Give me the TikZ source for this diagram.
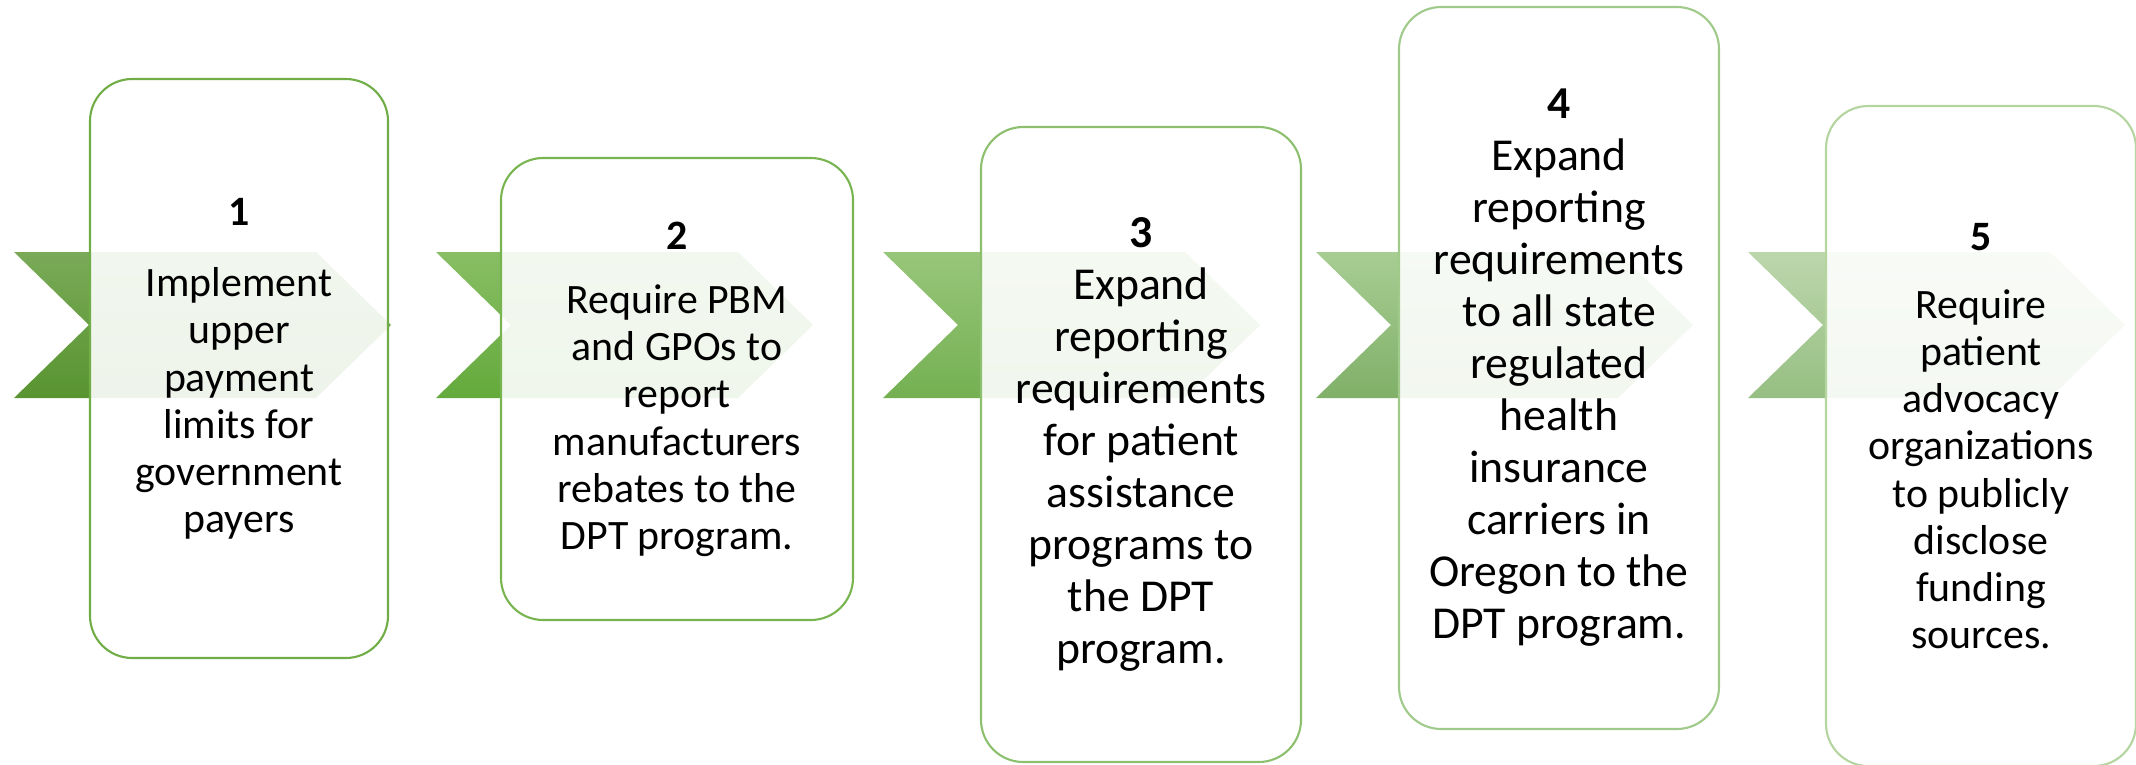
\documentclass[tikz,border=0pt]{standalone}
\usepackage{fontspec}
\setmainfont{Carlito}
\usepackage{xcolor}
\usepackage{tikz}
\usetikzlibrary{shapes.geometric, positioning, calc}
% chevron shading, top and bottom
\definecolor{corChevTopA}{RGB}{122, 170, 88}
\definecolor{corChevBotA}{RGB}{88, 148, 48}
\definecolor{corChevTopB}{RGB}{136, 190, 100}
\definecolor{corChevBotB}{RGB}{100, 170, 60}
\definecolor{corChevTopC}{RGB}{152, 198, 122}
\definecolor{corChevBotC}{RGB}{116, 176, 82}
\definecolor{corChevTopD}{RGB}{168, 205, 148}
\definecolor{corChevBotD}{RGB}{128, 176, 104}
\definecolor{corChevTopE}{RGB}{188, 215, 172}
\definecolor{corChevBotE}{RGB}{150, 190, 130}
% box outlines
\definecolor{corBoxA}{RGB}{112, 173, 71}
\definecolor{corBoxB}{RGB}{120, 180, 80}
\definecolor{corBoxC}{RGB}{140, 192, 110}
\definecolor{corBoxD}{RGB}{160, 202, 138}
\definecolor{corBoxE}{RGB}{180, 212, 160}

\begin{document}
\begin{tikzpicture}[
    chev/.style={shading=axis, shading angle=0},
    stepbox/.style={draw, rounded corners=12pt, line width=0.6pt, fill=white,
                    fill opacity=0.9, text opacity=1, align=center, inner sep=0pt},
    smalltxt/.style={font=\fontsize{11.9}{13.4}\selectfont},
    bigtxt/.style={font=\fontsize{13}{14.8}\selectfont}
]
\useasboundingbox (0,0) rectangle (21.36,7.64);

% chevrons behind the boxes
\path[chev, top color=corChevTopA, bottom color=corChevBotA]
    (0.14,5.12) -- ++(3.02,0) -- ++(0.75,-0.73) -- ++(-0.75,-0.73) -- ++(-3.02,0) -- ++(0.75,0.73) -- cycle;
\path[chev, top color=corChevTopB, bottom color=corChevBotB]
    (4.36,5.12) -- ++(3.02,0) -- ++(0.75,-0.73) -- ++(-0.75,-0.73) -- ++(-3.02,0) -- ++(0.75,0.73) -- cycle;
\path[chev, top color=corChevTopC, bottom color=corChevBotC]
    (8.83,5.12) -- ++(3.02,0) -- ++(0.75,-0.73) -- ++(-0.75,-0.73) -- ++(-3.02,0) -- ++(0.75,0.73) -- cycle;
\path[chev, top color=corChevTopD, bottom color=corChevBotD]
    (13.16,5.12) -- ++(3.02,0) -- ++(0.75,-0.73) -- ++(-0.75,-0.73) -- ++(-3.02,0) -- ++(0.75,0.73) -- cycle;
\path[chev, top color=corChevTopE, bottom color=corChevBotE]
    (17.48,5.12) -- ++(3.02,0) -- ++(0.75,-0.73) -- ++(-0.75,-0.73) -- ++(-3.02,0) -- ++(0.75,0.73) -- cycle;

% the five steps
\node[stepbox, smalltxt, draw=corBoxA, minimum width=2.98cm, minimum height=5.79cm] (upl) at (2.39,3.955)
    {\textbf{1}\\[7pt] Implement\\upper\\payment\\limits for\\government\\payers};
\node[stepbox, smalltxt, draw=corBoxB, minimum width=3.52cm, minimum height=4.62cm] (pbm) at (6.77,3.75)
    {\textbf{2}\\[5pt] Require PBM\\and GPOs to\\report\\manufacturers\\rebates to the\\DPT program.};
\node[stepbox, bigtxt, draw=corBoxC, minimum width=3.20cm, minimum height=6.35cm] (pap) at (11.41,3.195)
    {\textbf{3}\\ Expand\\reporting\\requirements\\for patient\\assistance\\programs to\\the DPT\\program.};
\node[stepbox, bigtxt, draw=corBoxD, minimum width=3.20cm, minimum height=7.22cm] (ins) at (15.59,3.96)
    {\textbf{4}\\ Expand\\reporting\\requirements\\to all state\\regulated\\health\\insurance\\carriers in\\Oregon to the\\DPT program.};
\node[stepbox, smalltxt, draw=corBoxE, minimum width=3.10cm, minimum height=6.60cm] (adv) at (19.81,3.28)
    {\textbf{5}\\[6pt] Require\\patient\\advocacy\\organizations\\to publicly\\disclose\\funding\\sources.};
\end{tikzpicture}
\end{document}
